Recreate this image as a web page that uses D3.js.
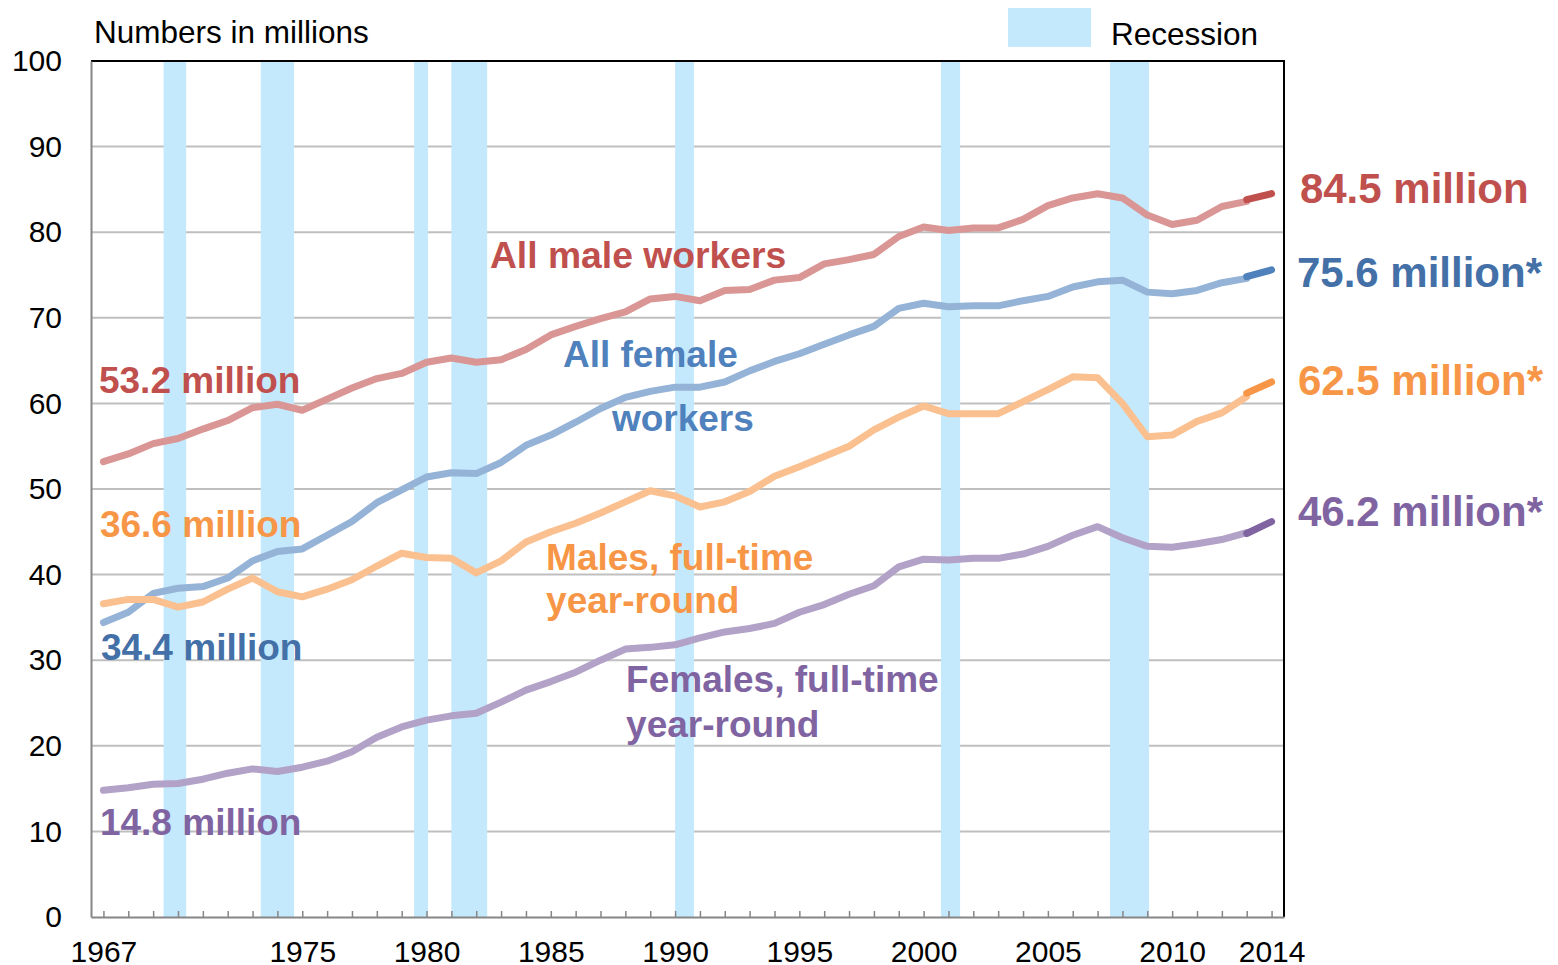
<!DOCTYPE html>
<html>
<head>
<meta charset="utf-8">
<script src="https://cdn.jsdelivr.net/npm/d3@7"></script>
<style>
  body { margin: 0; background: #fff; }
  text { font-family: "Liberation Sans", Arial, sans-serif; }
</style>
</head>
<body>
<svg width="1558" height="965"></svg>
<script>
// data (numbers in millions), 1967-2013 on the old survey, 2013-2014 on the redesigned one
const years = d3.range(1967, 2014);
const maleAll = [53.2, 54.1, 55.3, 55.9, 57.0, 58.0, 59.5, 59.9, 59.2, 60.5, 61.8, 62.9, 63.5, 64.8, 65.3, 64.8,
  65.1, 66.3, 68.0, 69.0, 69.9, 70.7, 72.2, 72.5, 72.0, 73.2, 73.3, 74.4, 74.7, 76.3, 76.8, 77.4,
  79.5, 80.6, 80.2, 80.5, 80.5, 81.5, 83.1, 84.0, 84.5, 84.0, 82.0, 80.9, 81.4, 83.0, 83.6];
const femaleAll = [34.4, 35.6, 37.8, 38.4, 38.6, 39.6, 41.6, 42.7, 43.0, 44.6, 46.2, 48.4, 49.9, 51.4, 51.9, 51.8,
  53.1, 55.1, 56.3, 57.8, 59.4, 60.7, 61.4, 61.9, 61.9, 62.5, 63.8, 64.9, 65.8, 66.9, 68.0, 69.0,
  71.1, 71.7, 71.3, 71.4, 71.4, 72.0, 72.5, 73.6, 74.2, 74.4, 73.0, 72.8, 73.2, 74.1, 74.6];
const maleFT = [36.6, 37.1, 37.1, 36.2, 36.8, 38.3, 39.6, 38.0, 37.4, 38.3, 39.4, 41.0, 42.5, 42.0, 41.9, 40.2,
  41.6, 43.8, 45.0, 46.0, 47.2, 48.5, 49.8, 49.2, 47.9, 48.5, 49.7, 51.5, 52.6, 53.8, 55.0, 56.9,
  58.4, 59.7, 58.8, 58.8, 58.8, 60.2, 61.6, 63.1, 63.0, 60.0, 56.1, 56.3, 57.9, 58.9, 60.8];
const femaleFT = [14.8, 15.1, 15.5, 15.6, 16.1, 16.8, 17.3, 17.0, 17.5, 18.2, 19.3, 21.0, 22.2, 23.0, 23.5, 23.8,
  25.1, 26.5, 27.5, 28.6, 30.0, 31.3, 31.5, 31.8, 32.6, 33.3, 33.7, 34.3, 35.6, 36.5, 37.7, 38.7,
  40.9, 41.8, 41.7, 41.9, 41.9, 42.4, 43.3, 44.6, 45.6, 44.3, 43.3, 43.2, 43.6, 44.1, 44.9];

const newYears = [2013, 2014];
const maleAllNew = [83.8, 84.5];
const femaleAllNew = [74.8, 75.6];
const maleFTNew = [61.2, 62.5];
const femaleFTNew = [44.8, 46.2];

// recession periods as drawn on the year axis
const recessions = [[1969.42, 1970.33], [1973.33, 1974.67], [1979.5, 1980.06], [1981.0, 1982.44],
  [1990.0, 1990.76], [2000.7, 2001.47], [2007.5, 2009.07]];

const yTicks = d3.range(0, 101, 10);
const xLabelYears = [1967, 1975, 1980, 1985, 1990, 1995, 2000, 2005, 2010, 2014];

const series = [
  { old: maleAll, fresh: maleAllNew, light: '#D99694', dark: '#C0504D' },
  { old: femaleAll, fresh: femaleAllNew, light: '#95B3D7', dark: '#4F81BD' },
  { old: maleFT, fresh: maleFTNew, light: '#FAC090', dark: '#F79646' },
  { old: femaleFT, fresh: femaleFTNew, light: '#B3A2C7', dark: '#8064A2' }
];

// labels placed in chart coordinates (year, value)
const labels = [
  { t: '53.2 million', x: 1966.82, y: 61.2, c: '#C0504D', s: 37 },
  { t: '36.6 million', x: 1966.86, y: 44.4, c: '#F79646', s: 37 },
  { t: '34.4 million', x: 1966.90, y: 30.0, c: '#4470A8', s: 37 },
  { t: '14.8 million', x: 1966.86, y: 9.6, c: '#8064A2', s: 37 },
  { t: 'All male workers', x: 1982.55, y: 75.8, c: '#C0504D', s: 37.3 },
  { t: 'All female', x: 1985.49, y: 64.3, c: '#4F81BD', s: 37 },
  { t: 'workers', x: 1987.46, y: 56.8, c: '#4F81BD', s: 37 },
  { t: 'Males, full-time', x: 1984.81, y: 40.5, c: '#F79646', s: 37 },
  { t: 'year-round', x: 1984.81, y: 35.5, c: '#F79646', s: 37 },
  { t: 'Females, full-time', x: 1988.03, y: 26.3, c: '#8064A2', s: 37 },
  { t: 'year-round', x: 1988.03, y: 21.0, c: '#8064A2', s: 37 },
  { t: '84.5 million', x: 2015.14, y: 83.4, c: '#C0504D', s: 42 },
  { t: '75.6 million*', x: 2015.02, y: 73.6, c: '#4470A8', s: 42 },
  { t: '62.5 million*', x: 2015.06, y: 61.0, c: '#F79646', s: 42 },
  { t: '46.2 million*', x: 2015.06, y: 45.7, c: '#8064A2', s: 42 }
];

const svg = d3.select('svg');
const x = d3.scaleLinear().domain([1966.5, 2014.5]).range([91, 1284]);
const y = d3.scaleLinear().domain([0, 100]).range([917, 61]);

// gridlines
svg.append('g')
  .selectAll('line')
  .data(yTicks.filter(d => d > 0 && d < 100))
  .enter()
  .append('line')
  .attr('x1', x.range()[0]).attr('x2', x.range()[1])
  .attr('y1', d => y(d)).attr('y2', d => y(d))
  .style('stroke', '#BFBFBF')
  .style('stroke-width', 2);

// recession bars
svg.append('g')
  .selectAll('rect')
  .data(recessions)
  .enter()
  .append('rect')
  .attr('x', d => x(d[0]))
  .attr('width', d => x(d[1]) - x(d[0]))
  .attr('y', y(100))
  .attr('height', y(0) - y(100))
  .style('fill', '#C4E9FC');

// frame: black top and right
svg.append('path')
  .attr('d', `M${x.range()[0]},${y(100)}H${x.range()[1]}V${y(0)}`)
  .style('fill', 'none')
  .style('stroke', '#000')
  .style('stroke-width', 2);

// axes
const xAxis = svg.append('g')
  .attr('transform', `translate(0, ${y(0)})`)
  .call(d3.axisBottom(x)
    .tickValues(d3.range(1967, 2015))
    .tickSizeInner(-6)
    .tickSizeOuter(0)
    .tickPadding(24)
    .tickFormat(d => xLabelYears.includes(d) ? d : ''));
xAxis.select('.domain').style('stroke', '#868686').style('stroke-width', 2);
xAxis.selectAll('.tick line').style('stroke', '#868686').style('stroke-width', 1.5);
xAxis.selectAll('text').style('font-size', '30px').style('fill', '#000');

const yAxis = svg.append('g')
  .attr('transform', `translate(${x.range()[0]}, 0)`)
  .call(d3.axisLeft(y).tickValues(yTicks).tickSize(0).tickPadding(29));
yAxis.select('.domain').style('stroke', '#868686').style('stroke-width', 2);
yAxis.selectAll('text').style('font-size', '30px').style('fill', '#000');

// lines
const line = d3.line().x(d => x(d[0])).y(d => y(d[1]));
const lineG = svg.append('g');
series.forEach(s => {
  lineG.append('path')
    .datum(years.map((yr, i) => [yr, s.old[i]]))
    .attr('d', line)
    .style('fill', 'none')
    .style('stroke', s.light)
    .style('stroke-width', 7)
    .style('stroke-linejoin', 'round')
    .style('stroke-linecap', 'round');
  lineG.append('path')
    .datum(newYears.map((yr, i) => [yr, s.fresh[i]]))
    .attr('d', line)
    .style('fill', 'none')
    .style('stroke', s.dark)
    .style('stroke-width', 7)
    .style('stroke-linecap', 'round');
});

// labels
svg.append('g')
  .selectAll('text')
  .data(labels)
  .enter()
  .append('text')
  .attr('x', d => x(d.x))
  .attr('y', d => y(d.y))
  .style('font-size', d => d.s + 'px')
  .style('font-weight', 'bold')
  .style('fill', d => d.c)
  .text(d => d.t);

// title and legend
svg.append('text')
  .attr('x', 94).attr('y', 43)
  .style('font-size', '31.5px')
  .text('Numbers in millions');
svg.append('rect')
  .attr('x', 1008).attr('y', 8)
  .attr('width', 83).attr('height', 39)
  .style('fill', '#C4E9FC');
svg.append('text')
  .attr('x', 1111).attr('y', 45)
  .style('font-size', '31.5px')
  .text('Recession');
</script>
</body>
</html>
